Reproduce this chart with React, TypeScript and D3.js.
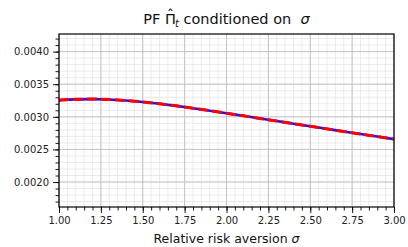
import React, { useRef, useEffect } from "react";
import * as d3 from "d3";

// sigma grid and the PF value
const sigmaValues = [1.0, 1.1, 1.2, 1.3, 1.4, 1.5, 1.6, 1.7, 1.8, 1.9, 2.0, 2.1, 2.2, 2.3, 2.4, 2.5, 2.6, 2.7, 2.8, 2.9, 3.0];
const pfValues = [
  0.003255, 0.003268, 0.003272, 0.003266, 0.00325, 0.003228, 0.0032, 0.003168, 0.003132, 0.003094,
  0.003055, 0.003015, 0.002975, 0.002935, 0.002895, 0.002855, 0.002815, 0.002775, 0.002736, 0.002697, 0.002658,
];
const xTicks = [1.0, 1.25, 1.5, 1.75, 2.0, 2.25, 2.5, 2.75, 3.0];
const yTicks = [0.002, 0.0025, 0.003, 0.0035, 0.004];

const App = () => {
  const chartRef = useRef(null);

  useEffect(() => {
    const root = d3.select(chartRef.current);
    root.selectAll("*").remove();

    const width = 408;
    const height = 247;
    const left = 59, right = 394, top = 34, bottom = 207;
    const font = "DejaVu Sans, sans-serif";

    const svg = root
      .append("svg")
      .attr("width", width)
      .attr("height", height)
      .style("position", "absolute")
      .style("left", "0px")
      .style("top", "0px")
      .style("background", "#fff");

    const xScale = d3.scaleLinear().domain([1, 3]).range([left, right]);
    const yScale = d3.scaleLinear().domain([0.001617, 0.00427]).range([bottom, top]);

    const xMinor = d3.range(1, 3.0001, 0.05);
    const yMinor = d3.range(0.0017, 0.00427, 0.0001);

    // minor grid
    const grid = svg.append("g");
    grid.selectAll(".vminor").data(xMinor).enter().append("line")
      .attr("x1", (d) => xScale(d)).attr("x2", (d) => xScale(d))
      .attr("y1", top).attr("y2", bottom)
      .attr("stroke", "#e6e6e6").attr("stroke-width", 0.8);
    grid.selectAll(".hminor").data(yMinor).enter().append("line")
      .attr("y1", (d) => yScale(d)).attr("y2", (d) => yScale(d))
      .attr("x1", left).attr("x2", right)
      .attr("stroke", "#e6e6e6").attr("stroke-width", 0.8);
    // major grid
    grid.selectAll(".vmajor").data(xTicks).enter().append("line")
      .attr("x1", (d) => xScale(d)).attr("x2", (d) => xScale(d))
      .attr("y1", top).attr("y2", bottom)
      .attr("stroke", "#c4c4c4").attr("stroke-width", 1);
    grid.selectAll(".hmajor").data(yTicks).enter().append("line")
      .attr("y1", (d) => yScale(d)).attr("y2", (d) => yScale(d))
      .attr("x1", left).attr("x2", right)
      .attr("stroke", "#c4c4c4").attr("stroke-width", 1);

    // axes
    const xAxis = d3.axisBottom(xScale).tickValues(xTicks).tickFormat(d3.format(".2f")).tickSize(6).tickPadding(4);
    const xAxisMinor = d3.axisBottom(xScale).tickValues(xMinor).tickFormat(() => "").tickSize(3.5);
    const yAxis = d3.axisLeft(yScale).tickValues(yTicks).tickFormat(d3.format(".4f")).tickSize(6).tickPadding(4);
    const yAxisMinor = d3.axisLeft(yScale).tickValues(yMinor).tickFormat(() => "").tickSize(3.5);

    [xAxisMinor, xAxis].forEach((ax) => {
      const g = svg.append("g").attr("transform", `translate(0, ${bottom})`).call(ax);
      g.select(".domain").remove();
      g.selectAll("line").attr("stroke", "#000").attr("stroke-width", 0.9);
      g.selectAll("text").attr("font-family", font).attr("font-size", 10).attr("fill", "#222");
    });
    [yAxisMinor, yAxis].forEach((ax) => {
      const g = svg.append("g").attr("transform", `translate(${left}, 0)`).call(ax);
      g.select(".domain").remove();
      g.selectAll("line").attr("stroke", "#000").attr("stroke-width", 0.9);
      g.selectAll("text").attr("font-family", font).attr("font-size", 10).attr("fill", "#222");
    });

    // data lines
    const pts = sigmaValues.map((s, i) => [s, pfValues[i]] as [number, number]);
    const line = d3.line<[number, number]>()
      .x((d) => xScale(d[0]))
      .y((d) => yScale(d[1]))
      .curve(d3.curveMonotoneX);

    svg.append("path").datum(pts).attr("d", line)
      .attr("fill", "none").attr("stroke", "#1515ff").attr("stroke-width", 2.6);
    svg.append("path").datum(pts).attr("d", line)
      .attr("fill", "none").attr("stroke", "#ff0000").attr("stroke-width", 3)
      .attr("stroke-dasharray", "10,4");

    // frame
    svg.append("rect")
      .attr("x", left).attr("y", top)
      .attr("width", right - left).attr("height", bottom - top)
      .attr("fill", "none").attr("stroke", "#000").attr("stroke-width", 1.2);

    // title: hat drawn over the Pi by hand
    const title = svg.append("text")
      .attr("x", (left + right) / 2).attr("y", 24)
      .attr("text-anchor", "middle")
      .attr("font-family", font).attr("font-size", 14.5).attr("fill", "#111");
    title.append("tspan").text("PF \u03A0");
    title.append("tspan").attr("dx", -9.3).attr("dy", -4).text("\u02C6");
    title.append("tspan").attr("font-style", "italic").attr("font-size", 10).attr("dx", 1).attr("dy", 7).text("t");
    title.append("tspan").attr("dy", -3).text(" conditioned on \u00A0");
    title.append("tspan").attr("font-style", "italic").text("\u03C3");

    // x label
    const xl = svg.append("text")
      .attr("x", (left + right) / 2).attr("y", 243)
      .attr("text-anchor", "middle")
      .attr("font-family", font).attr("font-size", 12.5).attr("fill", "#111");
    xl.append("tspan").text("Relative risk aversion ");
    xl.append("tspan").attr("font-style", "italic").text("\u03C3");
  }, []);

  return <div ref={chartRef} />;
};

export default App;
